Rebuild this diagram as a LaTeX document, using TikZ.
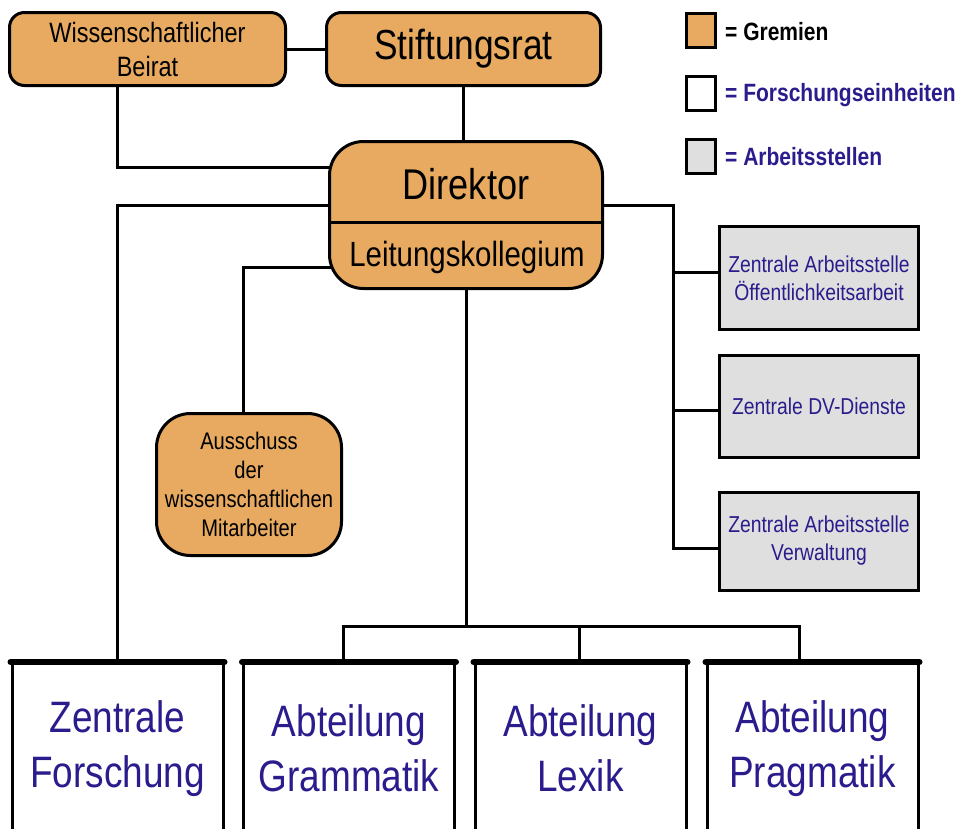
\documentclass[tikz,border=0pt]{standalone}
\usepackage{fontspec}
\setmainfont[FakeStretch=0.84]{Liberation Sans}
\usetikzlibrary{calc}
\definecolor{gorange}{RGB}{231,170,96}
\definecolor{agray}{RGB}{223,223,223}
\definecolor{ublue}{RGB}{42,28,140}
\pgfdeclarelayer{bg}
\pgfsetlayers{bg,main}
\begin{document}
\begin{tikzpicture}[x=1pt,y=-1pt,
  box/.style={draw=black, line width=3pt, inner sep=0pt, align=center},
  gremium/.style={box, fill=gorange, rounded corners=15pt},
  bigrem/.style={box, fill=gorange, rounded corners=34pt},
  astelle/.style={box, fill=agray, text=ublue, minimum width=199pt, font=\fontsize{23}{28}\selectfont},
  einheit/.style={box, fill=white, text=ublue, minimum width=211pt, minimum height=170pt, font=\fontsize{44}{55}\selectfont},
  conn/.style={line width=3pt},
  legbox/.style={draw=black, line width=2.5pt, minimum width=29pt, minimum height=34pt, inner sep=0pt},
  legtext/.style={anchor=west, inner sep=0pt, font=\bfseries\fontsize{25}{28}\selectfont}
]
\useasboundingbox (0,0) rectangle (960,828);
\clip (0,0) rectangle (960,828);

% Gremien
\node[gremium, minimum width=276pt, minimum height=73pt, font=\fontsize{28}{34}\selectfont] (beirat) at (147.5,49) {Wissenschaftlicher\\Beirat};
\node[gremium, minimum width=274pt, minimum height=73pt, font=\fontsize{42}{46}\selectfont] (stift) at (463.5,49) {Stiftungsrat};
\node[bigrem, minimum width=273pt, minimum height=147pt] (dir) at (466,215) {};
\node[font=\fontsize{43}{46}\selectfont, inner sep=0pt] (dirtext) at (466,184) {Direktor};
\node[font=\fontsize{35}{38}\selectfont, inner sep=0pt] (lktext) at (467,257) {Leitungskollegium};
\draw[conn] ([yshift=-7pt]dir.west) -- ([yshift=-7pt]dir.east);
\node[bigrem, minimum width=185pt, minimum height=142pt, font=\fontsize{24}{29}\selectfont] (aus) at (249,484.5) {Ausschuss\\der\\wissenschaftlichen\\Mitarbeiter};

% Arbeitsstellen
\node[astelle, minimum height=103pt] (a1) at (819,278) {Zentrale Arbeitsstelle\\Öffentlichkeitsarbeit};
\node[astelle, minimum height=102pt] (a2) at (819,406.5) {Zentrale DV-Dienste};
\node[astelle, minimum height=98pt] (a3) at (819,541) {Zentrale Arbeitsstelle\\Verwaltung};

% Forschungseinheiten
\node[einheit] (zf) at (117.5,748.5) {Zentrale\\Forschung};
\node[einheit] (gram) at (349,748.5) {Abteilung\\Grammatik};
\node[einheit] (lex) at (580.5,748.5) {Abteilung\\Lexik};
\node[einheit] (prag) at (812.5,748.5) {Abteilung\\Pragmatik};
\foreach \n in {zf,gram,lex,prag}{
  \draw[line width=6pt, line cap=round] (\n.north west) -- (\n.north east);
}

% Legende
\node[legbox, fill=gorange] (lg1) at (701,30.5) {};
\node[legbox, fill=white] (lg2) at (701,93.5) {};
\node[legbox, fill=agray] (lg3) at (701,156.5) {};
\node[legtext] (lt1) at (725,32) {= Gremien};
\node[legtext, text=ublue] (lt2) at (725,95) {= Forschungseinheiten};
\node[legtext, text=ublue] (lt3) at (725,157) {= Arbeitsstellen};

% Verbindungen
\coordinate (lx) at (117,0);
\coordinate (rx) at (673,0);
\coordinate (bar) at (463,626);
\begin{pgfonlayer}{bg}
\fill[white] (0,0) rectangle (960,828);
\draw[conn] (beirat.east) -- (stift.west);
\draw[conn] (stift.south) -- (stift.south |- dir.north);
\draw[conn] (beirat.south -| lx) |- ([yshift=48pt]dir.center);
\draw[conn] ([yshift=10pt]dir.center) -| (zf.north);
\draw[conn] ([yshift=-52pt]dir.center) -| ([xshift=-6pt]aus.north);
\draw[conn] ([yshift=10pt]dir.center) -| ([yshift=-7pt]rx |- a3.west) -- ([yshift=-7pt]a3.west);
\draw[conn] ([yshift=6pt]rx |- a1.west) -- ([yshift=6pt]a1.west);
\draw[conn] ([yshift=-4pt]rx |- a2.west) -- ([yshift=-4pt]a2.west);
\draw[conn] (dir.south) -- (dir.south |- bar);
\draw[conn] ([xshift=-6pt]gram.north) |- (bar) -| ([xshift=-13pt]prag.north);
\draw[conn] ([xshift=-1pt]lex.north) -- ([xshift=-1pt]lex.north |- bar);
\end{pgfonlayer}
\end{tikzpicture}
\end{document}
